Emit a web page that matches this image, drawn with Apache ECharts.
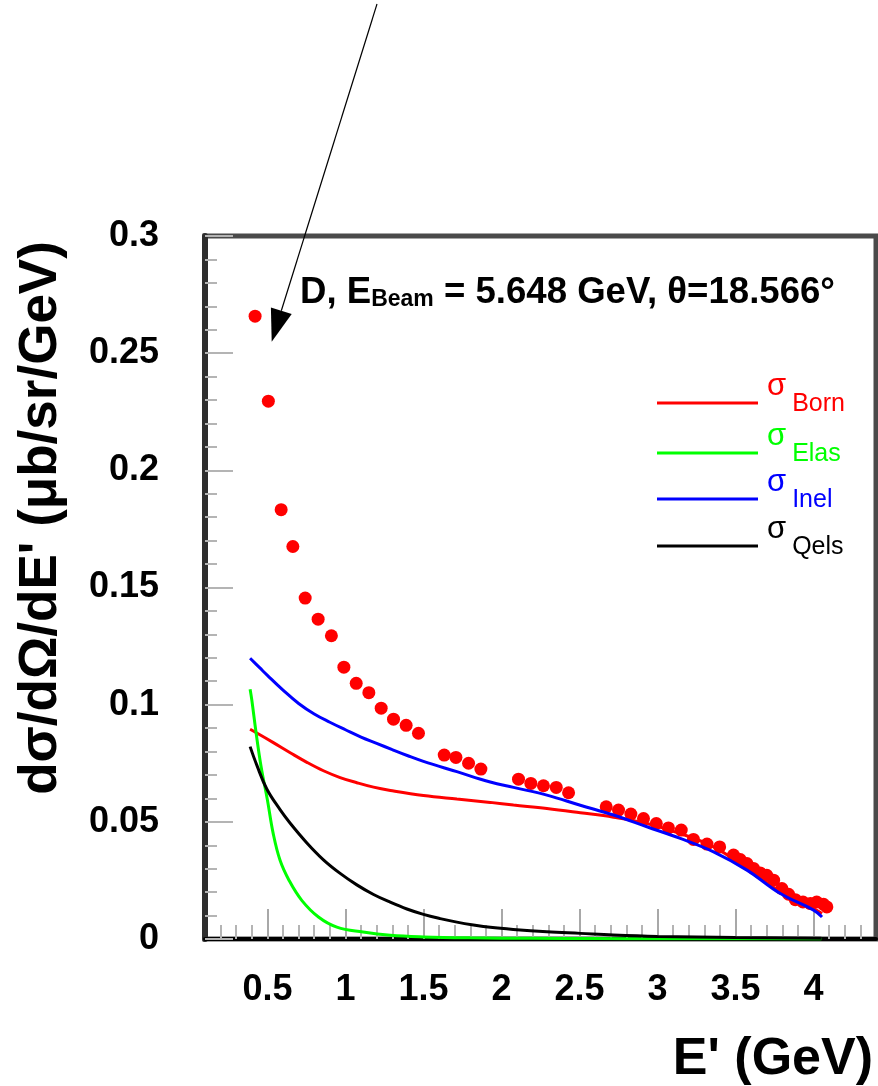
<!DOCTYPE html>
<html><head><meta charset="utf-8">
<script src="https://cdn.jsdelivr.net/npm/echarts@6/dist/echarts.min.js"></script>
<style>html,body{margin:0;padding:0;background:#fff}#c{width:878px;height:1086px}</style>
</head><body><div id="c"></div>
<script>
const FONT = '"Liberation Sans", Arial, Helvetica, sans-serif';

// tick labels
const xTicks = [0.5, 1, 1.5, 2, 2.5, 3, 3.5, 4];

// measured cross sections (red points)
const dataE = [0.421,0.506,0.588,0.663,0.742,0.825,0.910,0.990,1.069,1.150,1.229,1.308,1.389,1.468,
  1.633,1.708,1.789,1.868,2.109,2.188,2.269,2.351,2.430,2.671,2.750,2.829,2.910,2.992,3.070,3.152,
  3.230,3.317,3.398,3.487,3.530,3.573,3.615,3.658,3.700,3.744,3.797,3.840,3.883,3.932,3.980,4.020,4.064,4.085];
const dataSigma = [0.2658,0.2295,0.1832,0.1675,0.1455,0.1365,0.1294,0.1160,0.1091,0.1051,0.0985,0.0938,0.0912,0.0878,
  0.0785,0.0775,0.0750,0.0725,0.0682,0.0664,0.0654,0.0647,0.0624,0.0564,0.0550,0.0533,0.0514,0.0493,0.0474,0.0465,
  0.0425,0.0405,0.0393,0.0358,0.0339,0.0322,0.0301,0.0282,0.0272,0.0251,0.0215,0.0191,0.0168,0.0158,0.0151,0.0158,0.0148,0.0137];

// sigma_Born
const bornE = [0.389,0.432,0.538,0.646,0.753,0.859,0.966,1.073,1.18,1.288,1.5,1.714,1.928,2.077,2.291,2.505,2.718,2.932,3.146,3.359,3.573,3.787,4.0,4.054];
const bornS = [0.0895,0.0879,0.0838,0.0795,0.0754,0.0718,0.0689,0.0667,0.0648,0.0634,0.0612,0.0597,0.0583,0.0572,0.0557,0.0539,0.0520,0.0493,0.0450,0.0393,0.0301,0.0201,0.0130,0.0109];

// sigma_Elas
const elasE = [0.389,0.400,0.4276,0.4596,0.500,0.5365,0.581,0.639,0.720,0.827,0.945,1.113,1.287,1.5,1.8,2.2,2.6,3.0,3.5,4.05];
const elasS = [0.1066,0.1020,0.0879,0.0735,0.0593,0.0452,0.0336,0.0250,0.0165,0.0094,0.0051,0.0030,0.0016,0.0009,0.0005,0.0003,0.0002,0.0001,0.0001,0.0];

// sigma_Inel
const inelE = [0.389,0.45,0.5,0.6,0.7,0.8,0.9,1.0,1.1,1.2,1.3,1.4,1.5,1.714,1.928,2.077,2.291,2.505,2.718,2.932,3.146,3.359,3.573,3.787,4.0,4.054];
const inelS = [0.1198,0.1158,0.1125,0.1062,0.1005,0.0960,0.0925,0.0893,0.0862,0.0835,0.0808,0.0782,0.0758,0.0714,0.0670,0.0647,0.0614,0.0571,0.0529,0.0479,0.0429,0.0372,0.0294,0.0194,0.0123,0.0094];

// sigma_Qels
const qelsE = [0.389,0.432,0.496,0.581,0.646,0.753,0.859,0.966,1.073,1.18,1.287,1.394,1.5,1.607,1.714,1.82,1.928,2.075,2.291,2.505,2.716,3.0,3.5,4.05];
const qelsS = [0.0821,0.0742,0.0640,0.0552,0.0494,0.0410,0.0338,0.0280,0.0231,0.0190,0.0157,0.0128,0.0105,0.0087,0.0072,0.0060,0.0050,0.0041,0.0031,0.0024,0.0017,0.0011,0.0006,0.0003];

const zip = (a, b) => a.map((v, i) => [v, b[i]]);

const curveNames = ['Born', 'Elas', 'Inel', 'Qels'];
const curveColors = ['#ff0000', '#00ff00', '#0000ff', '#000000'];
const curveData = [zip(bornE, bornS), zip(elasE, elasS), zip(inelE, inelS), zip(qelsE, qelsS)];
const legendCenters = [403, 453, 499, 546];

const chart = echarts.init(document.getElementById('c'), null, {renderer: 'canvas'});

const lineSeries = curveNames.map((n, i) => ({
  name: n, type: 'line', data: curveData[i], showSymbol: false, symbol: 'none',
  smooth: 0.4, color: curveColors[i],
  lineStyle: {color: curveColors[i], width: 3},
  itemStyle: {color: curveColors[i]}, z: 3
}));

const legends = curveNames.map((n, i) => ({
  data: [n], left: 657, top: legendCenters[i] - 32.5, padding: 0, orient: 'vertical',
  icon: 'rect', itemWidth: 101, itemHeight: 3, selectedMode: false,
  itemStyle: {borderWidth: 0},
  formatter: name => '{g|σ}{s|' + name + '}',
  textStyle: {
    color: curveColors[i], fontFamily: FONT,
    rich: {
      g: {fontSize: 31, lineHeight: 31, padding: [0, 0, 34, 4], color: curveColors[i], fontFamily: FONT},
      s: {fontSize: 25, lineHeight: 25, padding: [2, 0, 0, 6], color: curveColors[i], fontFamily: FONT}
    }
  }
}));

chart.setOption({
  animation: false,
  backgroundColor: '#fff',
  grid: {left: 205, right: 2, top: 236, bottom: 147, show: true, borderColor: '#4a4a4a', borderWidth: 5, containLabel: false},
  xAxis: {
    type: 'value', min: 0.1, max: 4.4, minInterval: 0.5, maxInterval: 0.5,
    axisLine: {show: true, onZero: false, lineStyle: {color: '#000', width: 4}},
    axisTick: {show: true, inside: true, length: 30, customValues: xTicks, lineStyle: {color: '#a8a8a8', width: 2}},
    minorTick: {show: true, splitNumber: 5, length: 14, lineStyle: {color: '#b4b4b4', width: 2}},
    axisLabel: {customValues: xTicks, margin: 33, fontSize: 36, fontWeight: 'bold', color: '#000', fontFamily: FONT},
    splitLine: {show: false}
  },
  yAxis: {
    type: 'value', min: 0, max: 0.3, interval: 0.05,
    axisLine: {show: true, lineStyle: {color: '#2e2e2e', width: 6}},
    axisTick: {show: true, inside: true, length: 28, lineStyle: {color: '#b4b4b4', width: 2}},
    minorTick: {show: true, splitNumber: 5, length: 12, lineStyle: {color: '#b4b4b4', width: 2}},
    axisLabel: {margin: 46, fontSize: 36, fontWeight: 'bold', color: '#000', fontFamily: FONT},
    splitLine: {show: false}
  },
  legend: legends,
  series: [{
    name: 'Data', type: 'scatter', data: zip(dataE, dataSigma), symbol: 'circle', symbolSize: 13,
    itemStyle: {color: '#ff0000', opacity: 1}, z: 2
  }].concat(lineSeries),
  graphic: [
    {type: 'text', x: 41, y: 518, rotation: Math.PI / 2, z: 100,
     style: {text: "dσ/dΩ/dE' (μb/sr/GeV)", font: 'bold 53px ' + FONT, fill: '#000', align: 'center', verticalAlign: 'middle'}},
    {type: 'text', x: 873, y: 1059.5, z: 100,
     style: {text: "E' (GeV)", font: 'bold 52px ' + FONT, fill: '#000', align: 'right', verticalAlign: 'middle'}},
    {type: 'text', x: 300, y: 274, z: 100,
     style: {text: 'D, E{s|Beam} = 5.648 GeV, θ=18.566°', font: 'bold 36.6px ' + FONT, lineHeight: 37, fill: '#000',
       align: 'left', verticalAlign: 'top',
       rich: {s: {fontSize: 23, lineHeight: 23, fontWeight: 'bold', fontFamily: FONT, verticalAlign: 'bottom', fill: '#000'}}}},
    {type: 'line', z: 100, shape: {x1: 377, y1: 4, x2: 281.3, y2: 310.7}, style: {stroke: '#000', lineWidth: 1.2}},
    {type: 'polygon', z: 100, shape: {points: [[271.7, 341.7], [270.9, 307.5], [291.7, 313.9]]}, style: {fill: '#000'}}
  ]
});
</script></body></html>
